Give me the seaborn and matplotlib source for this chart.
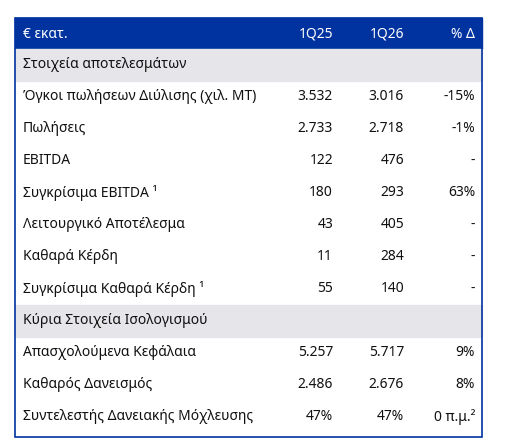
import matplotlib
matplotlib.use("Agg")
import matplotlib.pyplot as plt
from matplotlib.patches import Rectangle
import seaborn as sns

sns.set_theme(style="white")
plt.rcParams['font.family'] = ['Noto Sans', 'DejaVu Sans']

header = ["€ εκατ.", "1Q25", "1Q26", "% Δ"]
labels = ["Στοιχεία αποτελεσμάτων",
          "Όγκοι πωλήσεων Διύλισης (χιλ. ΜΤ)", "Πωλήσεις", "EBITDA",
          "Συγκρίσιμα EBITDA ¹", "Λειτουργικό Αποτέλεσμα", "Καθαρά Κέρδη",
          "Συγκρίσιμα Καθαρά Κέρδη ¹",
          "Κύρια Στοιχεία Ισολογισμού",
          "Απασχολούμενα Κεφάλαια", "Καθαρός Δανεισμός",
          "Συντελεστής Δανειακής Μόχλευσης"]
q25 = ["", "3.532", "2.733", "122", "180", "43", "11", "55", "", "5.257", "2.486", "47%"]
q26 = ["", "3.016", "2.718", "476", "293", "405", "284", "140", "", "5.717", "2.676", "47%"]
delta = ["", "-15%", "-1%", "-", "63%", "-", "-", "-", "", "9%", "8%", "0 π.μ.²"]
kind = ["section", "row", "row", "row", "bold", "row", "row", "bold",
        "section", "row", "row", "row"]

blue = "#0033a0"
fig = plt.figure(figsize=(5.12, 4.48), dpi=100)
ax = fig.add_axes([0, 0, 1, 1])
ax.set_xlim(0, 512)
ax.set_ylim(448, 0)
ax.axis("off")

left, right, top, rh = 15, 482, 18, 32
cols = [333, 404, 475]
fs = 10

ax.add_patch(Rectangle((left, top), right - left, 31, color=blue, zorder=1))
ax.text(23, top + 16, header[0], color="white", fontsize=fs, va="center")
for x, h in zip(cols, header[1:]):
    ax.text(x, top + 16, h, color="white", fontsize=fs, va="center", ha="right", fontweight="bold")

y = top + 31
for i, lab in enumerate(labels):
    cy = y + rh / 2
    if kind[i] == "section":
        ax.add_patch(Rectangle((left, y), right - left, rh, color="#e6e6ea", zorder=1))
        ax.text(23, cy, lab, fontsize=fs, va="center", fontweight="bold", color="#111111", zorder=2)
    else:
        w = "bold" if kind[i] == "bold" else "normal"
        ax.text(23, cy, lab, fontsize=fs, va="center", fontweight=w, color="#111111")
        for x, v in zip(cols, [q25[i], q26[i], delta[i]]):
            ax.text(x, cy, v, fontsize=fs, va="center", ha="right", fontweight=w, color="#111111")
    y += rh

ax.add_patch(Rectangle((left, top), right - left, y + 4 - top, fill=False, edgecolor=blue, lw=1.2, zorder=3))
fig.savefig("out.png", dpi=100)
